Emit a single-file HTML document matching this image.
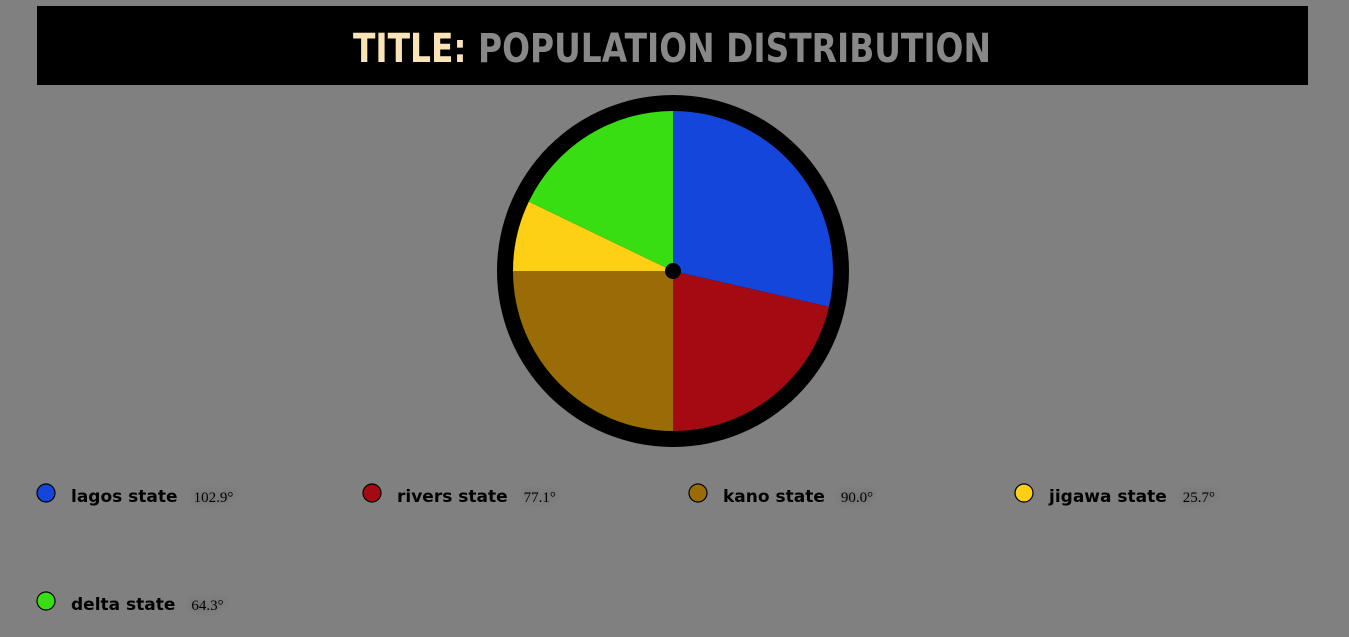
<!DOCTYPE html>
<html><head><meta charset="utf-8"><style>
html,body{margin:0;padding:0;background:#808080;width:1349px;height:637px;overflow:hidden}
svg{display:block}
</style></head><body>
<svg id="chart" width="1349" height="637" xmlns="http://www.w3.org/2000/svg">
<defs><filter id="sh" x="-20%" y="-50%" width="140%" height="200%"><feDropShadow dx="0" dy="0" stdDeviation="3" flood-color="#444" flood-opacity="0.9"/></filter></defs>
<rect x="37" y="6" width="1271" height="79" fill="#000"/>
<text x="353" y="62" textLength="638" lengthAdjust="spacingAndGlyphs" font-family="'DejaVu Sans', sans-serif" font-size="40" font-weight="bold"><tspan fill="#fbe3b8">TITLE:</tspan><tspan fill="#888888"> POPULATION DISTRIBUTION</tspan></text>
<circle cx="673" cy="271" r="176" fill="#000"/>
<g id="slices"></g>
<circle cx="673" cy="271" r="8" fill="#000"/>
<g id="legend"></g>
</svg>
<script>
const categories=["lagos state","rivers state","kano state","jigawa state","delta state"];
const values=[102.9,77.1,90.0,25.7,64.3];
const colors=["#1446dc","#a30a12","#9a6c07","#fdd016","#38dd12"];
const NS="http://www.w3.org/2000/svg";
const cx=673,cy=271,r=160;
const total=values.reduce((a,b)=>a+b,0);
const sl=document.getElementById('slices');
let a=0;
function pt(ang){const t=ang*Math.PI/180;return [cx+r*Math.sin(t),cy-r*Math.cos(t)];}
values.forEach((v,i)=>{
  const sweep=v/total*360;
  const p1=pt(a),p2=pt(a+sweep);
  const p=document.createElementNS(NS,'path');
  p.setAttribute('d',`M${cx},${cy}L${p1[0]},${p1[1]}A${r},${r} 0 ${sweep>180?1:0} 1 ${p2[0]},${p2[1]}Z`);
  p.setAttribute('fill',colors[i]);
  
  
  sl.appendChild(p);
  a+=sweep;
});
const lg=document.getElementById('legend');
categories.forEach((c,i)=>{
  const x=37+(i%4)*326, y=493+Math.floor(i/4)*108;
  const g=document.createElementNS(NS,'g');
  
  
  const d=document.createElementNS(NS,'circle');
  d.setAttribute('cx',x+9);d.setAttribute('cy',y);d.setAttribute('r',9);
  d.setAttribute('fill',colors[i]);d.setAttribute('stroke','#000');d.setAttribute('stroke-width','1.2');
  
  
  const t=document.createElementNS(NS,'text');
  t.setAttribute('x',x+34);t.setAttribute('y',y+9);
  t.setAttribute('font-family',"'DejaVu Sans', sans-serif");t.setAttribute('font-weight','bold');t.setAttribute('font-size','17');
  t.textContent=c;
  
  
  g.appendChild(d);g.appendChild(t);
  lg.appendChild(g);
  const w=t.getComputedTextLength();
  const v=document.createElementNS(NS,'text');
  v.setAttribute('x',x+34+w+16);v.setAttribute('y',y+9);
  v.setAttribute('font-family',"'Liberation Serif', serif");v.setAttribute('font-size','15');
  v.setAttribute('filter','url(#sh)');
  v.textContent=values[i].toFixed(1)+'°';
  
  
  g.appendChild(v);
});
</script>
</body></html>
